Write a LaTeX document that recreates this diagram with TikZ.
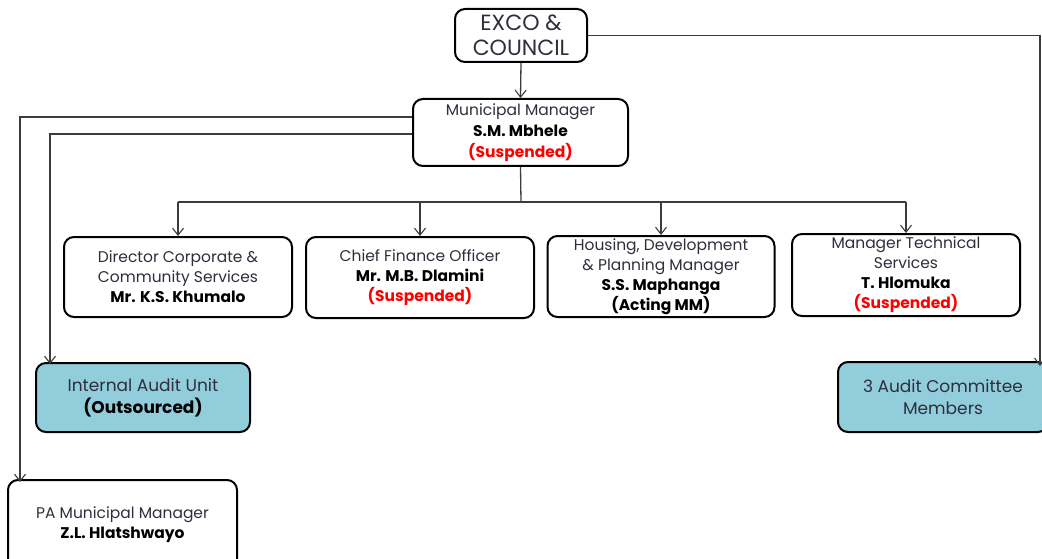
\documentclass[tikz,border=0pt]{standalone}
\usepackage{fontspec}
\setmainfont{Poppins}
\usetikzlibrary{arrows.meta}
\definecolor{txt}{HTML}{2E2E3C}
\definecolor{linec}{HTML}{3C3C3C}
\definecolor{aud}{HTML}{92CDDC}
\definecolor{susp}{HTML}{FF0000}
\tikzset{
  box/.style={draw=black, line width=2pt, rounded corners=10pt, align=center, inner sep=1pt,
    text=txt, font=\fontsize{15.5}{20}\selectfont},
  audbox/.style={box, fill=aud},
  conn/.style={draw=linec, line width=1.3pt, -{Straight Barb[length=7pt,width=11pt,line width=1.1pt]}},
  plain/.style={draw=linec, line width=1.3pt}
}
\newcommand{\nm}[1]{{\bfseries\color{black}#1}}
\newcommand{\sus}{{\bfseries\color{susp}(Suspended)}}
\begin{document}
\begin{tikzpicture}[x=1pt,y=-1pt]
\useasboundingbox (0,0) rectangle (1042,559);
\clip (0,0) rectangle (1042,559);
\node[box, minimum width=132pt, minimum height=53pt, font=\fontsize{22}{25}\selectfont] (exco) at (521,35.5) {EXCO \&\\COUNCIL};
\node[box, minimum width=215pt, minimum height=67pt, font=\fontsize{15.5}{21}\selectfont] (mm) at (520.5,132.5) {Municipal Manager\\\nm{S.M. Mbhele}\\\sus};
\node[box, minimum width=228pt, minimum height=80pt] (dir) at (178,277) {Director Corporate \&\\Community Services\\\nm{Mr. K.S. Khumalo}};
\node[box, minimum width=228pt, minimum height=81pt] (cfo) at (420,277.5) {Chief Finance Officer\\\nm{Mr. M.B. Dlamini}\\\sus};
\node[box, minimum width=227pt, minimum height=81pt] (hdp) at (661,276.5) {Housing, Development\\\& Planning Manager\\\nm{S.S. Maphanga}\\\nm{(Acting MM)}};
\node[box, minimum width=228pt, minimum height=82pt] (mts) at (906,275) {Manager Technical\\Services\\\nm{T. Hlomuka}\\\sus};
\node[audbox, minimum width=214pt, minimum height=69pt, font=\fontsize{17}{22}\selectfont] (iau) at (143,397.5) {Internal Audit Unit\\\nm{(Outsourced)}};
\node[audbox, minimum width=210pt, minimum height=70pt, font=\fontsize{17}{22}\selectfont] (acm) at (943,397) {3 Audit Committee\\Members};
\node[box, minimum width=229pt, minimum height=90pt] (pa) at (122.5,525) {PA Municipal Manager\\\nm{Z.L. Hlatshwayo}};
% connectors
\draw[conn] (exco.south) -- (mm.north);
\coordinate (bus) at (521,202);
\draw[plain] (mm.south) -- (bus);
\draw[plain] (dir.north |- bus) -- (mts.north |- bus);
\draw[conn] (dir.north |- bus) -- (dir.north);
\draw[conn] (cfo.north |- bus) -- (cfo.north);
\draw[conn] (hdp.north |- bus) -- (hdp.north);
\draw[conn] (mts.north |- bus) -- (mts.north);
\coordinate (paIn) at (20,482);
\coordinate (iauIn) at (50,364);
\coordinate (acmIn) at (1040,366);
\draw[conn] (mm.west |- 0,117) -| (paIn);
\draw[conn] (mm.west |- 0,134) -| (iauIn);
\draw[conn] (exco.east) -| (acmIn);
\end{tikzpicture}
\end{document}
